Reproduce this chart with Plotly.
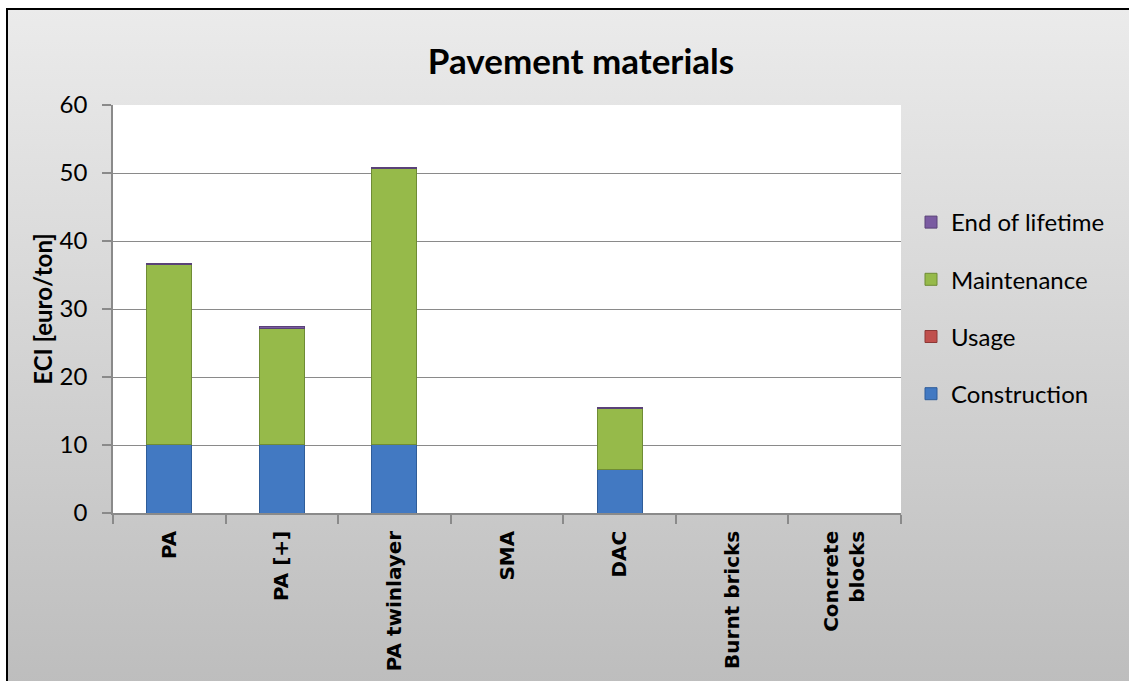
import base64
import plotly.graph_objects as go

categories = ["PA", "PA [+]", "PA twinlayer", "SMA", "DAC", "Burnt bricks", "Concrete<br>blocks"]
construction = [10.1, 10.1, 10.1, 0, 6.4, 0, 0]
usage = [0, 0, 0, 0, 0, 0, 0]
maintenance = [26.4, 17.1, 40.5, 0, 8.9, 0, 0]
end_of_lifetime = [0.2, 0.2, 0.2, 0, 0.2, 0, 0]

series = [
    ("Construction", construction, "#4279c2", "#2f5d99"),
    ("Usage", usage, "#c0504d", "#8c3836"),
    ("Maintenance", maintenance, "#96ba4a", "#6f8c35"),
    ("End of lifetime", end_of_lifetime, "#7a5ba1", "#5a4278"),
]

W, H = 1129, 681
L, R, T, B = 113, 228, 105, 168
pw, ph = W - L - R, H - T - B

FONT = "Lato"

fig = go.Figure()
for i, (name, vals, col, edge) in enumerate(series):
    fig.add_trace(go.Bar(
        x=categories, y=vals, name=name, legendgroup=name,
        legendrank=len(series) - i,
        marker=dict(color=col, line=dict(color=edge, width=1)),
    ))

# grey gradient background for the chart area
svg = (
    '<svg xmlns="http://www.w3.org/2000/svg" width="100" height="100" preserveAspectRatio="none">'
    '<defs><linearGradient id="g" x1="0" y1="0" x2="0" y2="1">'
    '<stop offset="0" stop-color="#ebebeb"/><stop offset="1" stop-color="#bdbdbd"/>'
    '</linearGradient></defs><rect width="100" height="100" fill="url(#g)"/></svg>'
)
src = "data:image/svg+xml;base64," + base64.b64encode(svg.encode()).decode()


def px_x(p):
    return (p - L) / pw


def px_y(p):
    return (H - B - p) / ph


fig.add_layout_image(
    source=src, xref="paper", yref="paper",
    x=px_x(7), y=px_y(9), sizex=px_x(W + 5) - px_x(7), sizey=px_y(9) - px_y(H + 5),
    xanchor="left", yanchor="top", sizing="stretch", layer="below",
)
fig.add_shape(type="rect", xref="paper", yref="paper", x0=0, x1=1, y0=0, y1=1,
              fillcolor="white", line=dict(width=0), layer="below")
fig.add_shape(type="rect", xref="paper", yref="paper",
              x0=px_x(7), x1=px_x(W + 20), y0=px_y(H + 20), y1=px_y(9),
              line=dict(color="black", width=2), layer="above")

fig.update_layout(
    width=W, height=H,
    margin=dict(l=L, r=R, t=T, b=B),
    paper_bgcolor="white",
    plot_bgcolor="white",
    barmode="stack",
    bargap=0.6,
    font=dict(family=FONT, color="black"),
    title=dict(text="<b>Pavement materials</b>", x=581 / W, xanchor="center",
               y=1 - 62 / H, yanchor="middle", font=dict(size=35, family=FONT)),
    legend=dict(x=px_x(911), y=px_y(200), xanchor="left", yanchor="top",
                traceorder="grouped", tracegroupgap=23,
                bgcolor="rgba(0,0,0,0)", font=dict(size=24, family=FONT)),
    xaxis=dict(
        showline=True, linecolor="#8a8a8a", linewidth=1.5,
        ticks="outside", ticklen=9, tickcolor="#8a8a8a", tickwidth=1.5,
        tickson="boundaries", tickangle=-90, ticklabelstandoff=8,
        automargin=False,
        tickfont=dict(size=20, family="DejaVu Sans", weight="bold"),
    ),
    yaxis=dict(
        range=[0, 60], dtick=10,
        showline=True, linecolor="#8a8a8a", linewidth=1.5,
        ticks="outside", ticklen=9, tickcolor="#8a8a8a", tickwidth=1.5,
        showgrid=True, gridcolor="#8a8a8a", gridwidth=1.2,
        zeroline=False, ticklabelstandoff=10, automargin=False,
        tickfont=dict(size=24, family=FONT),
        title=dict(text="<b>ECI [euro/ton]</b>", font=dict(size=24, family=FONT), standoff=0),
    ),
)

fig.write_html("out.html", config={"displayModeBar": False},
               post_script="document.body.style.margin='0';")
